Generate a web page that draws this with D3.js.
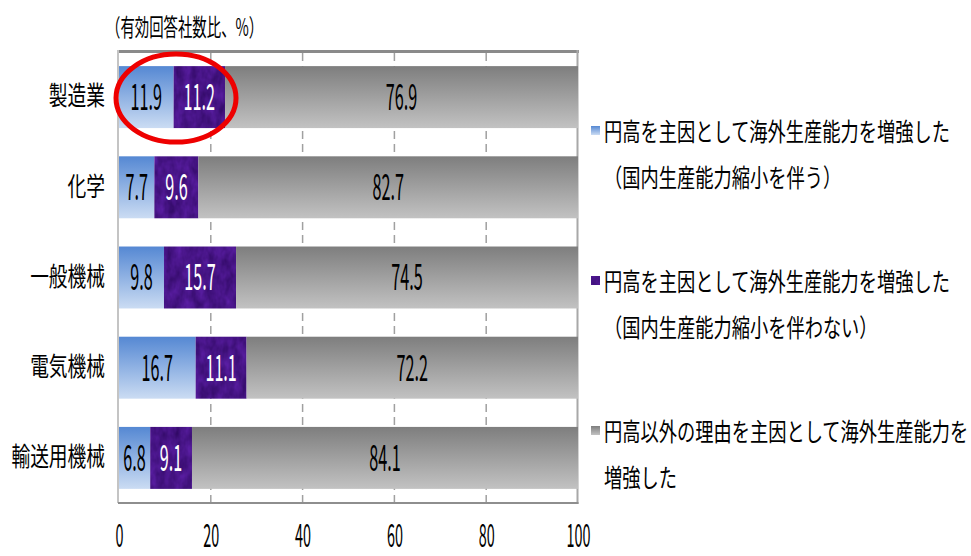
<!DOCTYPE html>
<html>
<head>
<meta charset="utf-8">
<script src="https://cdn.jsdelivr.net/npm/d3@7"></script>
<style>
  html, body { margin: 0; padding: 0; background: #fff; }
  svg { display: block; }
  text { font-family: "Noto Sans CJK JP", "Noto Sans", sans-serif; }
</style>
</head>
<body>
<svg id="chart" width="971" height="556"></svg>
<script>
// Categories (industries) and share of responding companies, %
const categories = ["製造業", "化学", "一般機械", "電気機械", "輸送用機械"];
const seriesNames = [
  ["円高を主因として海外生産能力を増強した", "（国内生産能力縮小を伴う）"],
  ["円高を主因として海外生産能力を増強した", "（国内生産能力縮小を伴わない）"],
  ["円高以外の理由を主因として海外生産能力を", "増強した"]
];
const withReduction    = [11.9, 7.7, 9.8, 16.7, 6.8];
const withoutReduction = [11.2, 9.6, 15.7, 11.1, 9.1];
const otherReasons     = [76.9, 82.7, 74.5, 72.2, 84.1];
const xTicks = [0, 20, 40, 60, 80, 100];
const unitLabel = "（有効回答社数比、%）";

const svg = d3.select("#chart");
const defs = svg.append("defs");

// Blue vertical gradient
const gBlue = defs.append("linearGradient").attr("id", "gBlue")
  .attr("x1", 0).attr("y1", 0).attr("x2", 0).attr("y2", 1);
gBlue.append("stop").attr("offset", "0%").attr("stop-color", "#5588d3");
gBlue.append("stop").attr("offset", "100%").attr("stop-color", "#cbdcf3");

// Gray vertical gradient
const gGray = defs.append("linearGradient").attr("id", "gGray")
  .attr("x1", 0).attr("y1", 0).attr("x2", 0).attr("y2", 1);
gGray.append("stop").attr("offset", "0%").attr("stop-color", "#7e7e7e");
gGray.append("stop").attr("offset", "100%").attr("stop-color", "#c2c2c2");

// Purple cloth-like texture
const fPurple = defs.append("filter").attr("id", "fPurple")
  .attr("x", 0).attr("y", 0).attr("width", 1).attr("height", 1)
  .attr("color-interpolation-filters", "sRGB");
fPurple.append("feTurbulence").attr("type", "fractalNoise")
  .attr("baseFrequency", "0.12 0.07").attr("numOctaves", 3).attr("seed", 4).attr("result", "noise");
fPurple.append("feColorMatrix").attr("in", "noise").attr("type", "matrix")
  .attr("values", "0.20 0 0 0 0.18  0.10 0 0 0 0.03  0.30 0 0 0 0.38  0 0 0 0 1")
  .attr("result", "tint");
fPurple.append("feComposite").attr("in", "tint").attr("in2", "SourceGraphic").attr("operator", "in");

const fills = ["url(#gBlue)", "#4a1686", "url(#gGray)"];
const labelColors = ["#000", "#fff", "#000"];

const x = d3.scaleLinear().domain([0, 100]).range([119, 578]);
const y = d3.scaleBand().domain(categories).range([52, 503])
  .paddingInner(0.313).paddingOuter(0.1565);

// Plot frame
const frame = svg.append("g");
frame.append("line").attr("x1", x(0) - 1).attr("x2", x(100) + 1).attr("y1", 51.5).attr("y2", 51.5)
  .attr("stroke", "#8a8a8a").attr("stroke-width", 3);
frame.append("line").attr("x1", x(0) - 1).attr("x2", x(0) - 1).attr("y1", 50).attr("y2", 503)
  .attr("stroke", "#c4c4c4").attr("stroke-width", 2);
frame.append("line").attr("x1", x(100) - 0.5).attr("x2", x(100) - 0.5).attr("y1", 50).attr("y2", 504)
  .attr("stroke", "#a8a8a8").attr("stroke-width", 2);
frame.append("line").attr("x1", x(0) - 1).attr("x2", x(100) + 0.5).attr("y1", 503).attr("y2", 503)
  .attr("stroke", "#8e8e8e").attr("stroke-width", 2);

// Dashed vertical gridlines
svg.append("g").selectAll("line").data(xTicks.filter(t => t > 0 && t < 100)).join("line")
  .attr("x1", d => x(d)).attr("x2", d => x(d)).attr("y1", 53).attr("y2", 502)
  .attr("stroke", "#a0a0a0").attr("stroke-width", 1.5).attr("stroke-dasharray", "8,5");

// Stacked bars
const rows = categories.map((c, i) => ({ cat: c, vals: [withReduction[i], withoutReduction[i], otherReasons[i]] }));
const segs = [];
rows.forEach(r => {
  let acc = 0;
  r.vals.forEach((v, k) => { segs.push({ cat: r.cat, k, v, x0: acc, x1: acc + v }); acc += v; });
});

const barG = svg.append("g");
barG.selectAll("rect").data(segs).join("rect")
  .attr("x", d => x(d.x0)).attr("width", d => x(d.x1) - x(d.x0))
  .attr("y", d => y(d.cat)).attr("height", y.bandwidth())
  .attr("fill", d => fills[d.k])
  .attr("filter", d => d.k === 1 ? "url(#fPurple)" : null);

// Value labels (condensed digits)
barG.selectAll("text").data(segs).join("text")
  .attr("transform", d => `translate(${(x(d.x0) + x(d.x1)) / 2},${y(d.cat) + y.bandwidth() / 2}) scale(0.45,1)`)
  .attr("text-anchor", "middle").attr("dy", "0.36em")
  .attr("font-size", 36).attr("fill", d => labelColors[d.k])
  .text(d => d3.format(".1f")(d.v));

// Category axis
const yAxis = svg.append("g").attr("transform", `translate(${x(0)},0)`)
  .call(d3.axisLeft(y).tickSize(0).tickPadding(14));
yAxis.select(".domain").remove();
yAxis.selectAll("text")
  .attr("font-size", 26).attr("fill", "#000").attr("font-family", "\"Noto Sans CJK JP\", sans-serif")
  .attr("transform", "translate(-14,0) scale(0.72,1) translate(14,0)");

// Value axis (condensed digits)
const xAxis = svg.append("g").attr("transform", "translate(0,547)")
  .call(d3.axisBottom(x).tickValues(xTicks).tickSize(0).tickPadding(0).tickFormat(d3.format("d")));
xAxis.select(".domain").remove();
xAxis.selectAll("text")
  .attr("font-size", 32).attr("fill", "#000").attr("font-family", "\"Liberation Sans\", sans-serif")
  .attr("transform", "scale(0.45,1)").attr("y", 0).attr("dy", 0);

// Unit note
svg.append("text")
  .attr("transform", "translate(106,27) scale(0.6,1)")
  .attr("dy", "0.36em").attr("font-size", 24).attr("fill", "#000")
  .text(unitLabel);

// Legend
const legendY = [132, 282, 432];
const legendFills = ["url(#gBlue)", "#4a1686", "url(#gGray)"];
const lg = svg.append("g").selectAll("g").data(seriesNames).join("g")
  .attr("transform", (d, i) => `translate(0,${legendY[i]})`);
lg.append("rect").attr("x", 591).attr("y", -6).attr("width", 9).attr("height", 9)
  .attr("fill", (d, i) => legendFills[i])
  .attr("filter", (d, i) => i === 1 ? "url(#fPurple)" : null);
lg.each(function (lines) {
  d3.select(this).selectAll("text").data(lines).join("text")
    .attr("transform", (t, j) => `translate(604,${j * 46}) scale(0.73,1)`)
    .attr("dy", "0.36em").attr("font-size", 25).attr("fill", "#000")
    .text(t => t);
});

// Highlight ellipse around the manufacturing yen-driven shares
svg.append("ellipse")
  .attr("cx", (x(0) + x(withReduction[0] + withoutReduction[0])) / 2 + 4)
  .attr("cy", y(categories[0]) + y.bandwidth() / 2 + 1)
  .attr("rx", 60).attr("ry", 44)
  .attr("fill", "none").attr("stroke", "#ee0000").attr("stroke-width", 5);
</script>
</body>
</html>
